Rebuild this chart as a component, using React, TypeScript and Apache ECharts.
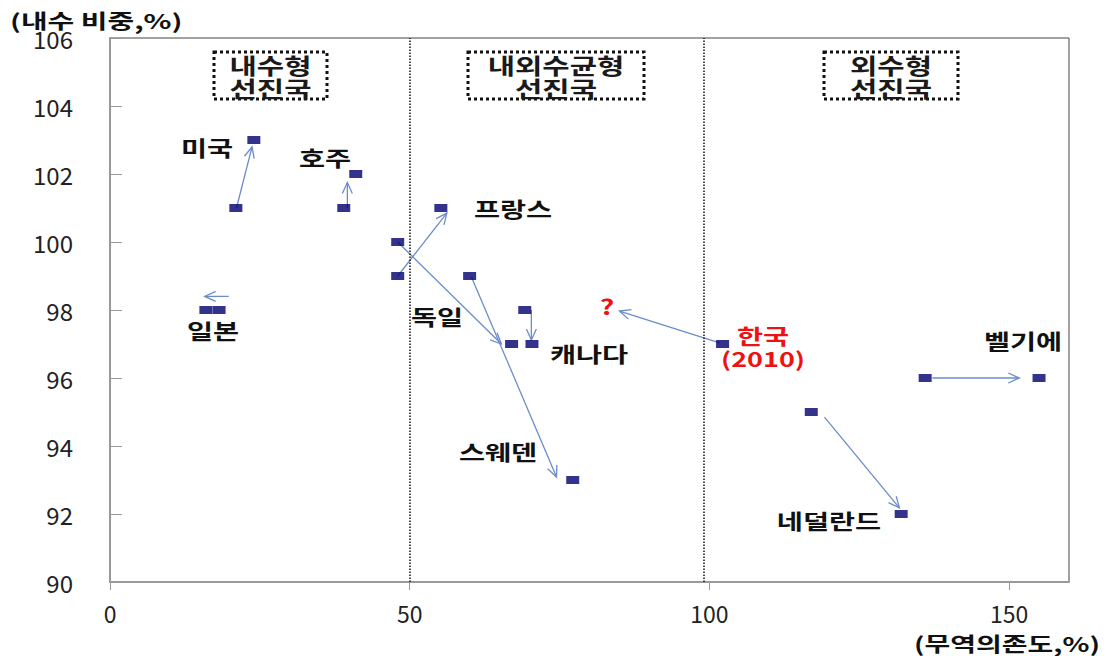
import React, { useEffect, useRef } from "react";
import * as echarts from "echarts";

// Marker points: [trade dependence %, domestic demand share %]
const points: number[][] = [
  [21, 101], [24, 103], // 미국
  [39, 101], [41, 102], // 호주
  [16, 98], [18.2, 98], // 일본
  [48, 100], [67, 97], // 독일
  [48, 99], [55.2, 101], // 프랑스
  [69.2, 98], [70.4, 97], // 캐나다
  [60, 99], [77.2, 93], // 스웨덴
  [102.2, 97], // 한국
  [117, 95], [132, 92], // 네덜란드
  [136, 96], [155, 96], // 벨기에
];

// Arrows: [x1, y1, x2(tip), y2(tip)]
const arrows: number[][] = [
  [21.1, 101, 23.7, 102.8], // 미국
  [39.6, 101, 39.6, 101.75], // 호주
  [19.8, 98.4, 15.8, 98.4], // 일본
  [48, 100, 65.3, 97.0], // 독일
  [48, 99, 56.2, 100.85], // 프랑스
  [70.3, 98, 70.3, 97.12], // 캐나다
  [60.3, 98.97, 74.5, 93.09], // 스웨덴
  [101.7, 97.03, 85, 97.97], // 한국
  [119.2, 94.85, 131.7, 92.18], // 네덜란드
  [137.2, 96, 151.7, 96], // 벨기에
];

const regionLines: number[] = [50, 99];
const xTicks: number[] = [0, 50, 100, 150];

const KR = "'Noto Sans CJK KR', 'Noto Sans', sans-serif";

export default function App() {
  const ref = useRef<HTMLDivElement>(null);
  useEffect(() => {
    if (!ref.current) return;
    const chart = echarts.init(ref.current, undefined, { renderer: "svg" });
    const arrowColor = "#6b8ccb";

    const label = (text: string, x: number, y: number, fill = "#111", size = 21) => ({
      type: "text",
      x,
      y,
      scaleX: 1.35,
      style: {
        text,
        fill,
        font: `bold ${size}px ${KR}`,
        align: "center",
        verticalAlign: "middle",
      },
      z: 100,
    });

    const box = (lines: string, x: number, y: number, w: number, h: number) => [
      {
        type: "rect",
        shape: { x, y, width: w, height: h },
        style: { fill: "none", stroke: "#111", lineWidth: 3, lineDash: [3, 3] },
        z: 100,
      },
      {
        type: "text",
        x: x + w / 2,
        y: y + h / 2 + 1,
        scaleX: 1.35,
        style: {
          text: lines,
          fill: "#1a1a1a",
          font: `bold 22px ${KR}`,
          lineHeight: 23,
          align: "center",
          verticalAlign: "middle",
        },
        z: 100,
      },
    ];

    chart.setOption({
      animation: false,
      grid: {
        left: 110,
        right: 39,
        top: 38,
        bottom: 74,
        show: true,
        borderColor: "#444",
        borderWidth: 1,
        backgroundColor: "#fff",
      },
      xAxis: {
        type: "value",
        min: 0,
        max: 160,
        interval: 50,
        splitLine: { show: false },
        axisLine: { lineStyle: { color: "#999", width: 2 } },
        axisTick: {
          show: true,
          inside: false,
          length: 8,
          customValues: xTicks,
          lineStyle: { color: "#999" },
        },
        axisLabel: {
          customValues: xTicks,
          formatter: (v: number) => (xTicks.indexOf(v) >= 0 ? String(v) : ""),
          fontSize: 23,
          color: "#222",
          margin: 19,
          fontFamily: KR,
        },
      },
      yAxis: {
        type: "value",
        min: 90,
        max: 106,
        interval: 2,
        splitLine: { show: false },
        axisLine: { show: true, lineStyle: { color: "#999", width: 2 } },
        axisTick: { show: true, inside: true, length: 12, lineStyle: { color: "#999" } },
        axisLabel: { fontSize: 24, color: "#222", margin: 37, fontFamily: KR },
      },
      series: [
        {
          type: "custom",
          coordinateSystem: "cartesian2d",
          encode: { x: [0, 2], y: [1, 3] },
          data: arrows,
          z: 3,
          silent: true,
          renderItem: (params: any, api: any) => {
            const s = api.coord([api.value(0), api.value(1)]);
            const e = api.coord([api.value(2), api.value(3)]);
            const dx = e[0] - s[0];
            const dy = e[1] - s[1];
            const len = Math.hypot(dx, dy) || 1;
            const ux = dx / len;
            const uy = dy / len;
            const h = 11;
            const w = 5;
            const a1 = [e[0] - ux * h - uy * w, e[1] - uy * h + ux * w];
            const a2 = [e[0] - ux * h + uy * w, e[1] - uy * h - ux * w];
            return {
              type: "group",
              children: [
                {
                  type: "line",
                  shape: { x1: s[0], y1: s[1], x2: e[0], y2: e[1] },
                  style: { stroke: arrowColor, lineWidth: 1.3 },
                },
                {
                  type: "polyline",
                  shape: { points: [a1, e, a2] },
                  style: { stroke: arrowColor, fill: "none", lineWidth: 1.3 },
                },
              ],
            };
          },
        },
        {
          type: "scatter",
          data: points,
          symbol: "rect",
          symbolSize: [13, 8],
          itemStyle: { color: "#00006e" },
          z: 4,
          markLine: {
            silent: true,
            symbol: "none",
            label: { show: false },
            lineStyle: { type: "dotted", color: "#111", width: 1.5 },
            data: regionLines.map((v) => ({ xAxis: v })),
          },
        },
      ],
      graphic: [
        {
          type: "text",
          x: 10,
          y: 20,
          scaleX: 1.45,
          style: { text: "(내수 비중,%)", fill: "#111", font: `bold 20px ${KR}`, verticalAlign: "middle" },
        },
        {
          type: "text",
          x: 1100,
          y: 643,
          scaleX: 1.4,
          style: {
            text: "(무역의존도,%)",
            fill: "#111",
            font: `bold 20px ${KR}`,
            align: "right",
            verticalAlign: "middle",
          },
        },
        ...box("내수형\n선진국", 214, 52, 113, 47),
        ...box("내외수균형\n선진국", 468, 52, 176, 47),
        ...box("외수형\n선진국", 824, 52, 134, 47),
        label("미국", 207, 147),
        label("호주", 325, 157),
        label("일본", 213, 330),
        label("프랑스", 513, 208),
        label("독일", 437, 316),
        label("캐나다", 589, 353),
        label("스웨덴", 498, 451),
        label("?", 607, 306, "#ee1111"),
        label("한국", 763, 335, "#ee1111"),
        label("(2010)", 763, 358, "#ee1111", 20),
        label("벨기에", 1023, 340),
        label("네덜란드", 829, 520),
      ],
    });
    return () => chart.dispose();
  }, []);
  return (
    <div
      ref={ref}
      style={{ position: "fixed", left: 0, top: 0, width: 1108, height: 656, background: "#fff" }}
    />
  );
}
